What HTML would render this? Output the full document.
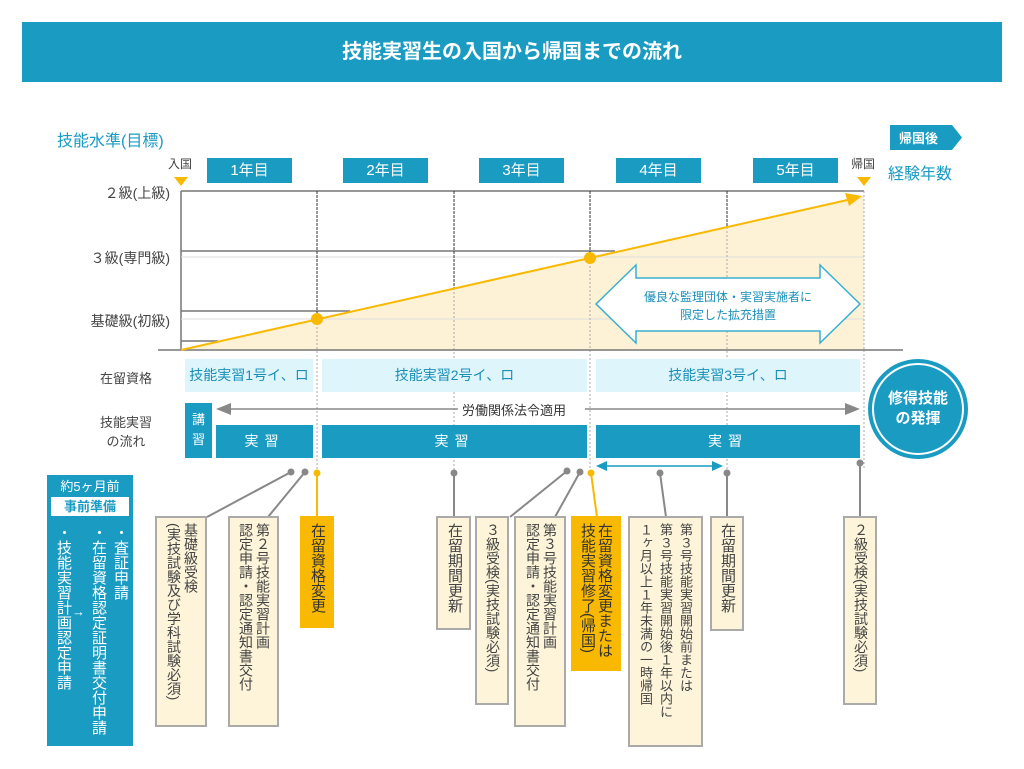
<!DOCTYPE html>
<html><head><meta charset="utf-8"><style>
*{margin:0;padding:0;box-sizing:border-box}
body{width:1024px;height:769px;background:#fff;position:relative;overflow:hidden;font-family:"Liberation Sans","Noto Sans CJK JP",sans-serif;color:#444}
.a{position:absolute}
.blue{background:#1a9bc2;color:#fff}
.yr{position:absolute;top:158px;height:25px;width:85px;background:#1a9bc2;color:#fff;font-size:15px;text-align:center;line-height:25px}
.lvl{position:absolute;right:854px;font-size:14px;color:#444;white-space:nowrap}
.st{position:absolute;top:359px;height:33px;background:#dff5fc;color:#1a8fb8;font-size:14px;text-align:center;line-height:33px}
.bar{position:absolute;top:425px;height:33px;background:#1a9bc2;color:#fff;font-size:14px;text-align:center;line-height:33px;letter-spacing:6px}
.v{position:absolute;top:516px;background:#fdf4d9;border:2px solid #aaa;writing-mode:vertical-rl;font-size:14px;line-height:17px;padding:5px 6px;color:#444;white-space:nowrap}
.y{background:#f9b900;border-color:#f9b900;color:#333}
.c{position:absolute;writing-mode:vertical-rl;color:#fff;font-size:15px;white-space:nowrap}
</style></head><body>
<div class="a blue" style="left:22px;top:22px;width:980px;height:60px;font-size:20px;font-weight:bold;text-align:center;line-height:60px">技能実習生の入国から帰国までの流れ</div>
<div class="a" style="left:57px;top:127px;font-size:16px;color:#1a9bc2">技能水準(目標)</div>
<svg class="a" style="left:0;top:0" width="1024" height="769">
<polygon points="890,125 952,125 962,137.5 952,150 890,150" fill="#1a9bc2"/>
<polygon points="174,177 188,177 181,186" fill="#f9b900"/>
<polygon points="857,177 871,177 864,186" fill="#f9b900"/>
<polygon points="181,350 864,195 864,350" fill="#fdf2d5"/>
<line x1="181" y1="191" x2="864" y2="191" stroke="#777" stroke-width="1.5"/>
<line x1="181" y1="191" x2="181" y2="350" stroke="#777" stroke-width="1.5"/>
<line x1="181" y1="251" x2="615" y2="251" stroke="#777" stroke-width="1.5"/>
<line x1="181" y1="257" x2="864" y2="257" stroke="#ddd" stroke-width="1"/>
<line x1="181" y1="311" x2="350" y2="311" stroke="#777" stroke-width="1.5"/>
<line x1="181" y1="319" x2="864" y2="319" stroke="#ddd" stroke-width="1"/>
<line x1="181" y1="341" x2="218" y2="341" stroke="#777" stroke-width="1.5"/>
<line x1="864" y1="191" x2="864" y2="350" stroke="#aaa" stroke-width="1" stroke-dasharray="2,2"/>
<g stroke="#333" stroke-width="1" stroke-dasharray="3,1">
<line x1="317" y1="191" x2="317" y2="319"/><line x1="454" y1="191" x2="454" y2="288"/>
<line x1="590" y1="191" x2="590" y2="258"/><line x1="727" y1="191" x2="727" y2="227"/></g>
<g stroke="#aaa" stroke-width="1" stroke-dasharray="2,2">
<line x1="317" y1="319" x2="317" y2="470"/><line x1="454" y1="288" x2="454" y2="470"/>
<line x1="590" y1="258" x2="590" y2="470"/><line x1="727" y1="227" x2="727" y2="470"/>
<line x1="864" y1="350" x2="864" y2="470"/></g>
<line x1="158" y1="350" x2="903" y2="350" stroke="#777" stroke-width="1.5"/>
<line x1="181" y1="350" x2="852" y2="199" stroke="#f9b900" stroke-width="2"/>
<polygon points="862,196 845,193 849,206" fill="#f9b900"/>
<circle cx="317" cy="319" r="6" fill="#f9b900"/><circle cx="590" cy="258" r="6" fill="#f9b900"/>
<polygon points="596,304 636,265 636,278 820,278 820,265 860,304 820,343 820,331 636,331 636,343" fill="#fff" stroke="#3aaed0" stroke-width="1.5"/>
<line x1="230" y1="409" x2="458" y2="409" stroke="#888" stroke-width="1.5"/>
<line x1="585" y1="409" x2="848" y2="409" stroke="#888" stroke-width="1.5"/>
<polygon points="216,409 231,403 231,415" fill="#888"/><polygon points="860,409 845,403 845,415" fill="#888"/>
<circle cx="918" cy="409" r="50" fill="#1a9bc2"/><circle cx="918" cy="409" r="45" fill="none" stroke="#fff" stroke-width="2"/>
<line x1="606" y1="466" x2="713" y2="466" stroke="#1a9bc2" stroke-width="1.5"/>
<polygon points="596,466 607,461 607,471" fill="#1a9bc2"/><polygon points="723,466 712,461 712,471" fill="#1a9bc2"/>
<g stroke="#888" stroke-width="2" fill="#888">
<line x1="291" y1="472" x2="207" y2="517"/><circle cx="291" cy="472" r="2.5"/>
<line x1="305" y1="472" x2="268" y2="517"/><circle cx="305" cy="472" r="2.5"/>
<line x1="454" y1="473" x2="454" y2="517"/><circle cx="454" cy="473" r="2.5"/>
<line x1="567" y1="471" x2="510" y2="517"/><circle cx="567" cy="471" r="2.5"/>
<line x1="580" y1="472" x2="555" y2="517"/><circle cx="580" cy="472" r="2.5"/>
<line x1="660" y1="473" x2="666" y2="517"/><circle cx="660" cy="473" r="2.5"/>
<line x1="727" y1="473" x2="727" y2="517"/><circle cx="727" cy="473" r="2.5"/>
<line x1="860" y1="463" x2="860" y2="517"/><circle cx="860" cy="463" r="2.5"/>
</g>
<g stroke="#f9b900" stroke-width="2" fill="#f9b900">
<line x1="317" y1="473" x2="317" y2="517"/><circle cx="317" cy="473" r="2.5"/>
<line x1="591" y1="473" x2="597" y2="517"/><circle cx="591" cy="473" r="2.5"/>
</g>
</svg>
<div class="a" style="left:899px;top:128px;font-size:13px;color:#fff;font-weight:bold">帰国後</div>
<div class="a" style="left:888px;top:160px;font-size:16px;color:#1a9bc2">経験年数</div>
<div class="a" style="left:168px;top:155px;font-size:12px">入国</div>
<div class="a" style="left:851px;top:155px;font-size:12px">帰国</div>
<div class="yr" style="left:207px">1年目</div><div class="yr" style="left:343px">2年目</div><div class="yr" style="left:479px">3年目</div><div class="yr" style="left:616px">4年目</div><div class="yr" style="left:753px">5年目</div>
<div class="lvl" style="top:183px">２級(上級)</div>
<div class="lvl" style="top:248px">３級(専門級)</div>
<div class="lvl" style="top:311px">基礎級(初級)</div>
<div class="a" style="left:636px;top:288px;width:184px;text-align:center;font-size:12px;line-height:18px;color:#1a8fb8">優良な監理団体・実習実施者に<br>限定した拡充措置</div>
<div class="a" style="left:100px;top:368px;font-size:13px">在留資格</div>
<div class="a" style="left:100px;top:413px;font-size:13px;line-height:19px;text-align:center">技能実習<br>の流れ</div>
<div class="st" style="left:185px;width:128px">技能実習1号イ、ロ</div>
<div class="st" style="left:322px;width:265px">技能実習2号イ、ロ</div>
<div class="st" style="left:596px;width:264px">技能実習3号イ、ロ</div>
<div class="a" style="left:462px;top:400px;font-size:13px;color:#333">労働関係法令適用</div>
<div class="a blue" style="left:185px;top:403px;width:27px;height:55px;font-size:13px;text-align:center;line-height:20px;padding-top:7px">講<br>習</div>
<div class="bar" style="left:216px;width:97px">実習</div>
<div class="bar" style="left:322px;width:265px">実習</div>
<div class="bar" style="left:596px;width:264px">実習</div>
<div class="a" style="left:868px;top:389px;width:100px;text-align:center;color:#fff;font-weight:bold;font-size:15px;line-height:20px">修得技能<br>の発揮</div>
<div class="a blue" style="left:47px;top:475px;width:86px;height:271px"></div>
<div class="a" style="left:47px;top:476px;width:86px;text-align:center;color:#fff;font-size:13px">約5ヶ月前</div>
<div class="a" style="left:51px;top:497px;width:78px;height:19px;background:#fff;color:#1a9bc2;font-size:13px;text-align:center;line-height:19px;font-weight:bold">事前準備</div>
<div class="c" style="left:110px;top:525px">・査証申請</div>
<div class="c" style="left:88px;top:525px">・在留資格認定証明書交付申請</div>
<div class="c" style="left:53px;top:525px">・技能実習計画認定申請</div>
<div class="a" style="left:72px;top:604px;color:#fff;font-size:13px">→</div>
<div class="v" style="left:155px;width:52px;height:211px">基礎級受検<br>(実技試験及び学科試験必須)</div>
<div class="v" style="left:228px;width:51px;height:211px">第２号技能実習計画<br>認定申請・認定通知書交付</div>
<div class="v y" style="left:300px;width:34px;height:112px;font-size:15px">在留資格変更</div>
<div class="v" style="left:436px;width:35px;height:114px;font-size:15px">在留期間更新</div>
<div class="v" style="left:475px;width:34px;height:189px">３級受検(実技試験必須)</div>
<div class="v" style="left:514px;width:52px;height:211px">第３号技能実習計画<br>認定申請・認定通知書交付</div>
<div class="v y" style="left:571px;width:50px;height:155px;font-size:15px">在留資格変更または<br>技能実習修了(帰国)</div>
<div class="v" style="left:628px;width:75px;height:231px;font-size:13px;line-height:20px">第３号技能実習開始前または<br>第３号技能実習開始後１年以内に<br>１ヶ月以上１年未満の一時帰国</div>
<div class="v" style="left:710px;width:34px;height:115px;font-size:15px">在留期間更新</div>
<div class="v" style="left:843px;width:34px;height:189px">２級受検(実技試験必須)</div>
</body></html>
